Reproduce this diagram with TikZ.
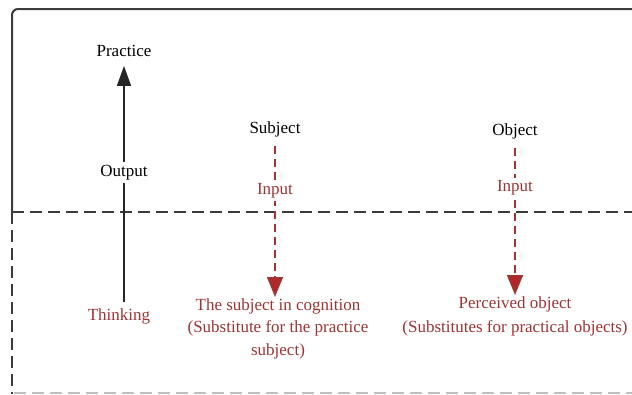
\documentclass[tikz,border=0pt]{standalone}
\usepackage{fontspec}
\setmainfont{Liberation Serif}
\usepackage{xcolor}
\usepackage{tikz}
\usetikzlibrary{arrows.meta}
\definecolor {darkred}  {RGB}{158, 52, 52}
\definecolor {headred}  {RGB}{176, 40, 40}
\definecolor {frame}    {RGB}{60, 60, 60}

\tikzset{
	label/.style={font=\fontsize{17}{22.5}\selectfont, inner sep=1pt, align=center},
	redlabel/.style={label, text=darkred},
	inlabel/.style={redlabel, fill=white, inner sep=2pt},
	outarrow/.style={line width=1.6pt, draw=black!85, -{Triangle[length=20pt, width=14pt]}},
	inarrow/.style={line width=1.6pt, draw=darkred, dash pattern=on 8pt off 5pt, -{Triangle[length=20pt, width=16pt, fill=headred]}}
}

\begin{document}
\begin{tikzpicture}[x=1pt, y=-1pt]

	\useasboundingbox (0, 0) rectangle (632, 394);

	% Draw the frame
	\draw[line width=2pt, frame, rounded corners=6pt] (12, 212) -- (12, 9) -- (640, 9);
	\draw[line width=2pt, frame, dash pattern=on 12pt off 6pt] (12, 212) -- (640, 212);
	\draw[line width=2pt, frame, dash pattern=on 12pt off 6pt] (12, 212) -- (12, 394);
	\draw[line width=1.8pt, black!25, dash pattern=on 12pt off 6pt] (14, 393) -- (640, 393);

	% Texts
	\node[label] (practice) at (124, 51) {Practice};
	\node[redlabel] (thinking) at (119, 316) {Thinking};

	\node[label] (subject) at (275, 129) {Subject};
	\node[redlabel, anchor=north] (subjcog) at (278, 297) {The subject in cognition\\(Substitute for the practice\\subject)};

	\node[label] (object) at (515, 131) {Object};
	\node[redlabel, anchor=north] (perceived) at (515, 295) {Perceived object\\[2pt](Substitutes for practical objects)};

	% Draw arrows
	\draw[outarrow] (thinking.north -| practice.south) ++(0, -5) coordinate (thinkingtop)
		-- node[label, fill=white, inner sep=3pt, pos=0.55] (output) {Output} ([yshift=-8pt]practice.south);

	\draw[inarrow] ([yshift=-8pt]subject.south) -- node[inlabel, pos=0.3] (subjin) {Input} (subject.south |- subjcog.north);
	\draw[inarrow] ([yshift=-8pt]object.south) -- node[inlabel, pos=0.27] (objin) {Input} (perceived.north);

\end{tikzpicture}
\end{document}
